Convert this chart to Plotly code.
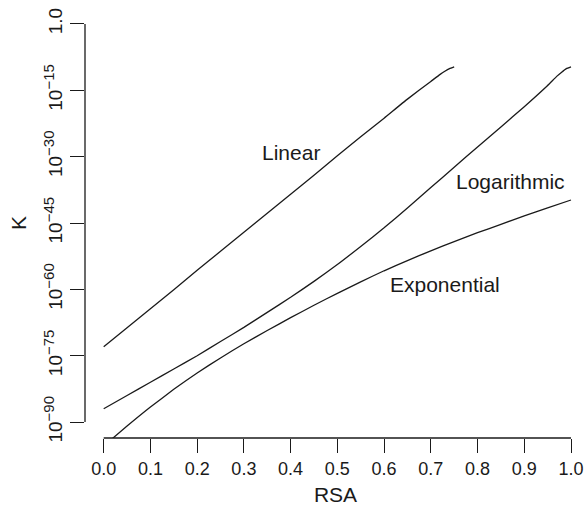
import plotly.graph_objects as go

# RSA grid and log10(K) for the three models
rsa_linear = [0.00, 0.05, 0.10, 0.15, 0.20, 0.25, 0.30, 0.35, 0.40, 0.45,
              0.50, 0.55, 0.60, 0.65, 0.70, 0.72, 0.73, 0.74, 0.75]
logk_linear = [-73.0, -68.7, -64.4, -60.1, -55.7, -51.4, -47.1, -42.8, -38.5, -34.2,
               -29.8, -25.5, -21.3, -17.0, -13.0, -11.4, -10.7, -10.1, -9.7]

rsa_log = [0.00, 0.05, 0.10, 0.15, 0.20, 0.25, 0.30, 0.35, 0.40, 0.45, 0.50,
           0.55, 0.60, 0.65, 0.70, 0.75, 0.80, 0.85, 0.90, 0.95, 0.97, 0.98, 0.99, 1.00]
logk_log = [-87.0, -84.0, -81.0, -78.0, -75.0, -71.8, -68.6, -65.2, -61.8, -58.2, -54.4,
            -50.3, -46.1, -41.6, -37.0, -32.4, -27.8, -23.3, -18.7, -13.9, -11.8, -10.9,
            -10.1, -9.7]

rsa_exp = [0.00, 0.05, 0.10, 0.15, 0.20, 0.25, 0.30, 0.35, 0.40, 0.45, 0.50,
           0.55, 0.60, 0.65, 0.70, 0.75, 0.80, 0.85, 0.90, 0.95, 1.00]
logk_exp = [-95.4, -90.9, -86.6, -82.6, -78.9, -75.5, -72.3, -69.3, -66.4, -63.6, -60.9,
            -58.3, -55.8, -53.5, -51.3, -49.2, -47.2, -45.3, -43.4, -41.6, -39.8]

x_ticks = [0.0, 0.1, 0.2, 0.3, 0.4, 0.5, 0.6, 0.7, 0.8, 0.9, 1.0]
x_ticklabels = ["0.0", "0.1", "0.2", "0.3", "0.4", "0.5", "0.6", "0.7", "0.8", "0.9", "1.0"]
y_tick_exps = [0, -15, -30, -45, -60, -75, -90]
SUP = "<sup><span style='font-size:15px'>{}</span></sup>"
y_ticklabels = ["1.0"] + ["10" + SUP.format("\u2212" + str(-e)) for e in y_tick_exps[1:]]

# curve labels: (text, RSA, log10 K)
curve_labels = [("Linear", 0.400, -29.0),
                ("Logarithmic", 0.871, -35.6),
                ("Exponential", 0.730, -59.0)]

W, H = 586, 511
FONT = "Liberation Sans, Arial, Helvetica, sans-serif"
INK = "#1a1a1a"

# axis extents (4% padding around the data limits, R style)
x_lo, x_hi = -0.04, 1.0321
y_lo, y_hi = -93.6, 3.6

fig = go.Figure()
for xs, es in [(rsa_linear, logk_linear), (rsa_log, logk_log), (rsa_exp, logk_exp)]:
    fig.add_trace(go.Scatter(
        x=xs, y=[10 ** e for e in es], mode="lines",
        line=dict(color=INK, width=1.3, shape="spline", smoothing=0.4),
        showlegend=False, hoverinfo="skip"))

for text, xv, ev in curve_labels:
    fig.add_annotation(x=xv, y=ev, xref="x", yref="y", text=text, showarrow=False,
                       font=dict(family=FONT, size=21, color=INK))

# axis lines spanning only first to last tick
yfrac = lambda e: (e - y_lo) / (y_hi - y_lo)
xfrac = lambda v: (v - x_lo) / (x_hi - x_lo)
fig.add_shape(type="line", xref="paper", yref="paper",
              x0=0, x1=0, y0=yfrac(min(y_tick_exps)), y1=yfrac(max(y_tick_exps)),
              line=dict(color=INK, width=1.3))
fig.add_shape(type="line", xref="paper", yref="paper",
              x0=xfrac(x_ticks[0]), x1=xfrac(x_ticks[-1]), y0=0, y1=0,
              line=dict(color=INK, width=1.3))

fig.update_xaxes(
    range=[x_lo, x_hi], showgrid=False, zeroline=False, showline=False,
    tickmode="array", tickvals=x_ticks, ticktext=x_ticklabels,
    ticks="outside", ticklen=14, tickwidth=1.3, tickcolor=INK,
    tickfont=dict(family=FONT, size=18, color=INK),
    title=dict(text="RSA", font=dict(family=FONT, size=21, color=INK), standoff=9))
fig.update_yaxes(
    type="log", range=[y_lo, y_hi], showgrid=False, zeroline=False, showline=False,
    tickmode="array", tickvals=[10.0 ** e for e in y_tick_exps], ticktext=y_ticklabels,
    ticks="outside", ticklen=14, tickwidth=1.3, tickcolor=INK, tickangle=-90,
    tickfont=dict(family=FONT, size=19, color=INK),
    title=dict(text="K", font=dict(family=FONT, size=21, color=INK), standoff=8))

fig.update_layout(
    width=W, height=H, autosize=False,
    margin=dict(l=85, r=0, t=8, b=73),
    paper_bgcolor="white", plot_bgcolor="white")

fig.write_html("out.html")
